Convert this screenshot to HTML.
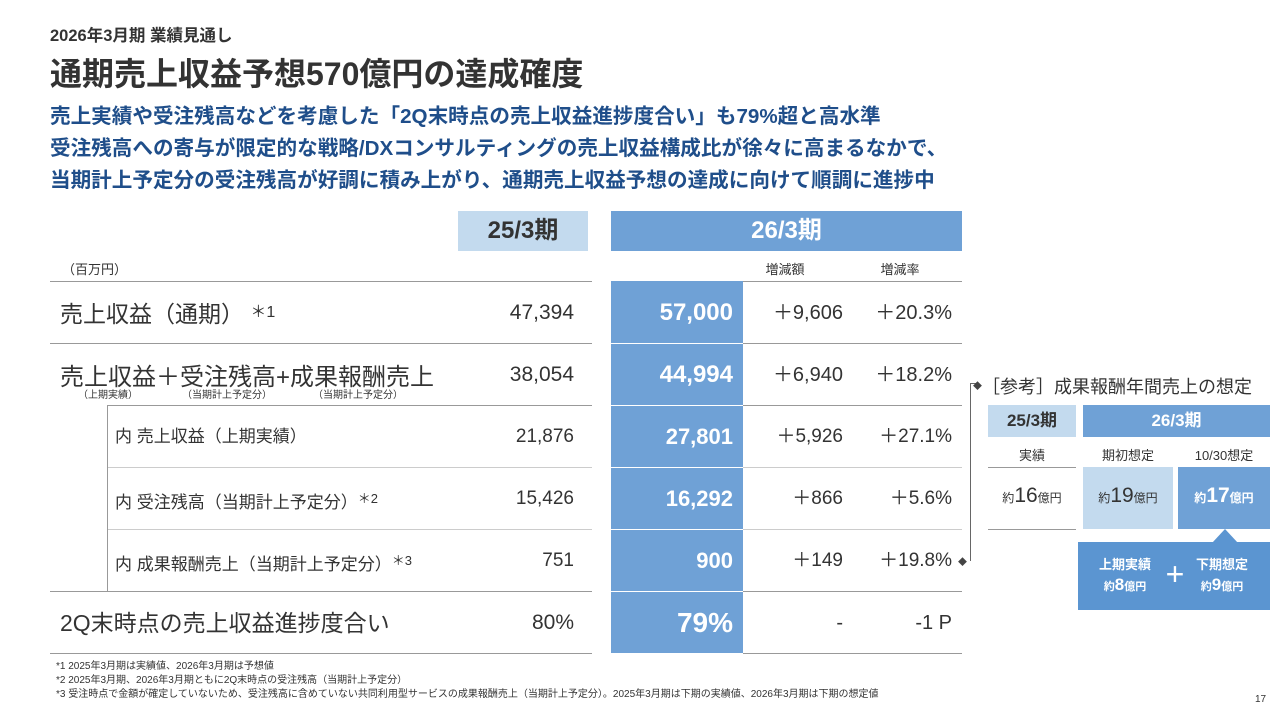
<!DOCTYPE html>
<html><head><meta charset="utf-8">
<style>
body{margin:0;width:1280px;height:720px;background:#fff;position:relative;overflow:hidden;font-family:"Liberation Sans","Noto Sans CJK JP",sans-serif;color:#333}
.a{position:absolute;white-space:nowrap}
.b{font-weight:bold}
.r{text-align:right}
.c{text-align:center}
.cell{position:absolute;white-space:nowrap;height:62px;line-height:62px}
.ln{position:absolute;height:1px;background:#999}
.vl{position:absolute;width:1px;background:#999}
.blue{color:#1f4e8a}
</style></head><body>
<div class="a b" style="left:50px;top:22px;font-size:16.5px">2026年3月期 業績見通し</div>
<div class="a b" style="left:50px;top:49px;font-size:32px;color:#333">通期売上収益予想570億円の達成確度</div>
<div class="a b blue" style="left:50px;top:99px;font-size:20.6px">売上実績や受注残高などを考慮した「2Q末時点の売上収益進捗度合い」も79%超と高水準</div>
<div class="a b blue" style="left:50px;top:131px;font-size:20.6px">受注残高への寄与が限定的な戦略/DXコンサルティングの売上収益構成比が徐々に高まるなかで、</div>
<div class="a b blue" style="left:50px;top:163px;font-size:20.6px">当期計上予定分の受注残高が好調に積み上がり、通期売上収益予想の達成に向けて順調に進捗中</div>

<div class="a b c" style="left:458px;top:211px;width:130px;height:40px;line-height:40px;background:#c3daee;font-size:24px">25/3期</div>
<div class="a b c" style="left:611px;top:211px;width:351px;height:40px;line-height:40px;background:#6fa1d6;color:#fff;font-size:24px">26/3期</div>
<div class="a" style="left:62px;top:259px;font-size:13px">（百万円）</div>
<div class="a c" style="left:750px;top:259px;width:70px;font-size:13px">増減額</div>
<div class="a c" style="left:865px;top:259px;width:70px;font-size:13px">増減率</div>

<div class="a" style="left:611px;top:281px;width:132px;height:372px;background:#6fa1d6"></div>

<div class="ln" style="left:50px;top:281px;width:542px"></div><div class="ln" style="left:743px;top:281px;width:219px"></div>
<div class="ln" style="left:50px;top:343px;width:542px"></div><div class="ln" style="left:743px;top:343px;width:219px"></div>
<div class="ln" style="left:107px;top:405px;width:485px"></div><div class="ln" style="left:743px;top:405px;width:219px"></div>
<div class="ln" style="left:107px;top:467px;width:485px;background:#ccc"></div><div class="ln" style="left:743px;top:467px;width:219px;background:#ccc"></div>
<div class="ln" style="left:107px;top:529px;width:485px;background:#ccc"></div><div class="ln" style="left:743px;top:529px;width:219px;background:#ccc"></div>
<div class="ln" style="left:50px;top:591px;width:542px"></div><div class="ln" style="left:743px;top:591px;width:219px"></div>
<div class="ln" style="left:50px;top:653px;width:542px"></div><div class="ln" style="left:743px;top:653px;width:219px"></div>
<div class="vl" style="left:107px;top:405px;height:186px"></div>
<div class="ln" style="left:611px;top:343px;width:132px;background:#fff"></div>
<div class="ln" style="left:611px;top:405px;width:132px;background:#fff"></div>
<div class="ln" style="left:611px;top:467px;width:132px;background:#fff"></div>
<div class="ln" style="left:611px;top:529px;width:132px;background:#fff"></div>
<div class="ln" style="left:611px;top:591px;width:132px;background:#fff"></div>

<!-- row 1 -->
<div class="cell" style="left:60px;top:282px;font-size:23px">売上収益（通期） <span style="font-size:16px;vertical-align:5px">＊1</span></div>
<div class="cell r" style="left:474px;top:282px;width:100px;font-size:21px">47,394</div>
<div class="cell r b" style="left:613px;top:282px;width:120px;font-size:24px;color:#fff">57,000</div>
<div class="cell r" style="left:743px;top:282px;width:100px;font-size:20px">＋9,606</div>
<div class="cell r" style="left:852px;top:282px;width:100px;font-size:20px">＋20.3%</div>
<!-- row 2 -->
<div class="a" style="left:60px;top:357px;font-size:24px">売上収益＋受注残高+成果報酬売上</div>
<div class="a" style="left:78px;top:386px;font-size:10px">（上期実績）</div>
<div class="a" style="left:182px;top:386px;font-size:10px">（当期計上予定分）</div>
<div class="a" style="left:313px;top:386px;font-size:10px">（当期計上予定分）</div>
<div class="cell r" style="left:474px;top:344px;width:100px;font-size:21px">38,054</div>
<div class="cell r b" style="left:613px;top:344px;width:120px;font-size:24px;color:#fff">44,994</div>
<div class="cell r" style="left:743px;top:344px;width:100px;font-size:20px">＋6,940</div>
<div class="cell r" style="left:852px;top:344px;width:100px;font-size:20px">＋18.2%</div>
<!-- row 3 -->
<div class="cell" style="left:115px;top:406px;font-size:17px">内 売上収益（上期実績）</div>
<div class="cell r" style="left:474px;top:406px;width:100px;font-size:19px">21,876</div>
<div class="cell r b" style="left:613px;top:406px;width:120px;font-size:22px;color:#fff">27,801</div>
<div class="cell r" style="left:743px;top:406px;width:100px;font-size:19px">＋5,926</div>
<div class="cell r" style="left:852px;top:406px;width:100px;font-size:19px">＋27.1%</div>
<!-- row 4 -->
<div class="cell" style="left:115px;top:468px;font-size:17px">内 受注残高（当期計上予定分）<span style="font-size:13px;vertical-align:5px">＊2</span></div>
<div class="cell r" style="left:474px;top:468px;width:100px;font-size:19px">15,426</div>
<div class="cell r b" style="left:613px;top:468px;width:120px;font-size:22px;color:#fff">16,292</div>
<div class="cell r" style="left:743px;top:468px;width:100px;font-size:19px">＋866</div>
<div class="cell r" style="left:852px;top:468px;width:100px;font-size:19px">＋5.6%</div>
<!-- row 5 -->
<div class="cell" style="left:115px;top:530px;font-size:17px">内 成果報酬売上（当期計上予定分）<span style="font-size:13px;vertical-align:5px">＊3</span></div>
<div class="cell r" style="left:474px;top:530px;width:100px;font-size:19px">751</div>
<div class="cell r b" style="left:613px;top:530px;width:120px;font-size:22px;color:#fff">900</div>
<div class="cell r" style="left:743px;top:530px;width:100px;font-size:19px">＋149</div>
<div class="cell r" style="left:852px;top:530px;width:100px;font-size:19px">＋19.8%</div>
<!-- row 6 -->
<div class="cell" style="left:60px;top:592px;font-size:23px">2Q末時点の売上収益進捗度合い</div>
<div class="cell r" style="left:474px;top:592px;width:100px;font-size:21px">80%</div>
<div class="cell r b" style="left:613px;top:592px;width:120px;font-size:28px;color:#fff">79%</div>
<div class="cell r" style="left:743px;top:592px;width:100px;font-size:20px">-</div>
<div class="cell r" style="left:852px;top:592px;width:100px;font-size:20px">-1 P</div>

<!-- footnotes -->
<div class="a" style="left:56px;top:657px;font-size:10px">*1 2025年3月期は実績値、2026年3月期は予想値</div>
<div class="a" style="left:56px;top:671px;font-size:10px">*2 2025年3月期、2026年3月期ともに2Q末時点の受注残高（当期計上予定分）</div>
<div class="a" style="left:56px;top:685px;font-size:10px">*3 受注時点で金額が確定していないため、受注残高に含めていない共同利用型サービスの成果報酬売上（当期計上予定分）。2025年3月期は下期の実績値、2026年3月期は下期の想定値</div>
<div class="a" style="left:1255px;top:694px;font-size:10px">17</div>

<!-- right panel -->
<div class="vl" style="left:970px;top:383px;height:178px;background:#666"></div>
<div class="ln" style="left:970px;top:383px;width:6px;background:#666"></div>
<div class="a" style="left:973px;top:379px;font-size:9px;color:#444">◆</div>
<div class="a" style="left:958px;top:555px;font-size:9px;color:#444">◆</div>
<div class="a" style="left:982px;top:373px;font-size:18px">［参考］成果報酬年間売上の想定</div>
<div class="a b c" style="left:988px;top:405px;width:88px;height:32px;line-height:32px;background:#c3daee;font-size:17px">25/3期</div>
<div class="a b c" style="left:1083px;top:405px;width:187px;height:32px;line-height:32px;background:#6fa1d6;color:#fff;font-size:17px">26/3期</div>
<div class="a c" style="left:988px;top:445px;width:88px;font-size:13px">実績</div>
<div class="a c" style="left:1083px;top:445px;width:90px;font-size:13px">期初想定</div>
<div class="a c" style="left:1178px;top:445px;width:92px;font-size:13px">10/30想定</div>
<div class="ln" style="left:988px;top:467px;width:88px"></div>
<div class="ln" style="left:988px;top:529px;width:88px"></div>
<div class="a" style="left:1083px;top:467px;width:90px;height:62px;background:#c3daee"></div>
<div class="a" style="left:1178px;top:467px;width:92px;height:62px;background:#6fa1d6"></div>
<div class="a c" style="left:988px;top:484px;width:88px;font-size:12px">約<span style="font-size:21px">16</span>億円</div>
<div class="a c" style="left:1083px;top:484px;width:90px;font-size:12px">約<span style="font-size:21px">19</span>億円</div>
<div class="a c b" style="left:1178px;top:484px;width:92px;font-size:12px;color:#fff">約<span style="font-size:21px">17</span>億円</div>
<div class="a" style="left:1212px;top:529px;width:0;height:0;border-left:13px solid transparent;border-right:13px solid transparent;border-bottom:14px solid #5b95d1"></div>
<div class="a" style="left:1078px;top:542px;width:192px;height:68px;background:#5b95d1"></div>
<div class="a c b" style="left:1085px;top:555px;width:80px;font-size:13px;color:#fff;line-height:20px">上期実績<br><span style="font-size:11px">約</span><span style="font-size:17px">8</span><span style="font-size:11px">億円</span></div>
<div class="a c" style="left:1160px;top:556px;width:30px;font-size:32px;color:#fff">+</div>
<div class="a c b" style="left:1182px;top:555px;width:80px;font-size:13px;color:#fff;line-height:20px">下期想定<br><span style="font-size:11px">約</span><span style="font-size:17px">9</span><span style="font-size:11px">億円</span></div>
</body></html>
